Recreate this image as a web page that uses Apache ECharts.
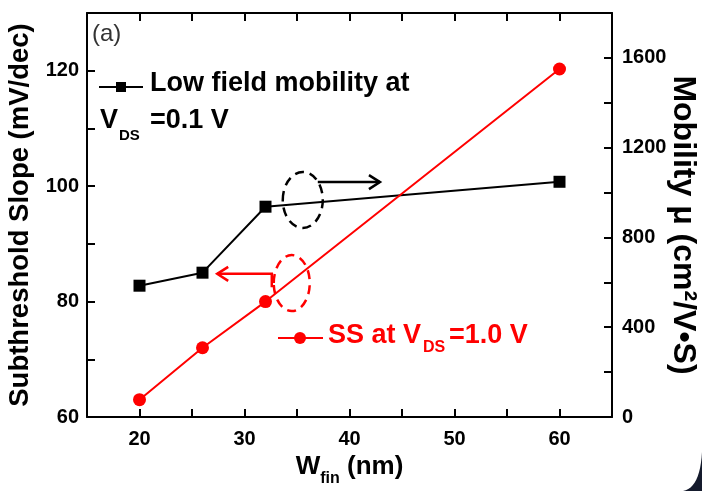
<!DOCTYPE html>
<html>
<head>
<meta charset="utf-8">
<script src="https://cdn.jsdelivr.net/npm/echarts@6/dist/echarts.min.js"></script>
<style>
  html, body { margin: 0; padding: 0; background: #ffffff; }
  #chart { width: 702px; height: 491px; }
</style>
</head>
<body>
<div id="chart"></div>
<script>
// Fin width (nm) and the two measured quantities
const finWidths = [20, 26, 32, 60];
const ssValues = [63, 72, 80, 120.3];          // subthreshold slope, mV/dec (left axis)
const mobilityValues = [585, 643, 937, 1048];  // low field mobility, cm^2/V·s (right axis)

// Labelled ticks
const xTickLabels = [20, 30, 40, 50, 60];
const ssTickLabels = [60, 80, 100, 120];
const mobilityTickLabels = [0, 400, 800, 1200, 1600];

const FONT = '"Liberation Sans", Arial, sans-serif';
const RED = '#ff0000';
const BLACK = '#000000';

const chart = echarts.init(document.getElementById('chart'), null, { renderer: 'canvas' });

function axisBase(color) {
  return {
    axisLine: { show: true, onZero: false, lineStyle: { color: color, width: 2 } },
    axisTick: { show: true, inside: true, length: 8, lineStyle: { color: color, width: 2 } },
    splitLine: { show: false },
    minorTick: { show: false }
  };
}

function tickLabel(list) {
  return function (v) { return list.indexOf(v) >= 0 ? String(v) : ''; };
}

const labelStyle = { color: BLACK, fontFamily: FONT, fontWeight: 'bold', fontSize: 20 };

const option = {
  animation: false,
  backgroundColor: '#ffffff',
  grid: { left: 87, right: 90, top: 13, bottom: 74, containLabel: false, outerBoundsMode: 'none' },
  xAxis: [
    Object.assign(axisBase(BLACK), {
      type: 'value', position: 'bottom', min: 15, max: 65, interval: 5,
      axisLabel: Object.assign({ formatter: tickLabel(xTickLabels), margin: 12 }, labelStyle),
      name: '{a|W}{s|fin}{a| (nm)}',
      nameLocation: 'middle', nameGap: 30,
      nameTextStyle: {
        rich: {
          a: { fontFamily: FONT, fontWeight: 'bold', fontSize: 26, color: BLACK, lineHeight: 40 },
          s: { fontFamily: FONT, fontWeight: 'bold', fontSize: 16, color: BLACK, lineHeight: 16, verticalAlign: 'bottom' }
        }
      }
    }),
    Object.assign(axisBase(BLACK), {
      type: 'value', position: 'top', min: 15, max: 65, interval: 5,
      axisLabel: { show: false }
    })
  ],
  yAxis: [
    Object.assign(axisBase(BLACK), {
      type: 'value', position: 'left', min: 60, max: 130, interval: 10,
      axisLabel: Object.assign({ formatter: tickLabel(ssTickLabels), margin: 8 }, labelStyle),
      name: 'Subthreshold Slope (mV/dec)',
      nameLocation: 'middle', nameRotate: 90, nameGap: 44,
      nameTextStyle: { fontFamily: FONT, fontWeight: 'bold', fontSize: 27.5, color: BLACK }
    }),
    Object.assign(axisBase(BLACK), {
      type: 'value', position: 'right', min: 0, max: 1800, interval: 200,
      axisLabel: Object.assign({ formatter: tickLabel(mobilityTickLabels), margin: 10 }, labelStyle)
    })
  ],
  series: [
    {
      name: 'Low field mobility', type: 'line', xAxisIndex: 0, yAxisIndex: 1,
      data: finWidths.map((w, i) => [w, mobilityValues[i]]),
      symbol: 'rect', symbolSize: 12,
      lineStyle: { color: BLACK, width: 2 },
      itemStyle: { color: BLACK },
      z: 3
    },
    {
      name: 'SS', type: 'line', xAxisIndex: 0, yAxisIndex: 0,
      data: finWidths.map((w, i) => [w, ssValues[i]]),
      symbol: 'circle', symbolSize: 13,
      lineStyle: { color: RED, width: 2 },
      itemStyle: { color: RED },
      z: 4
    }
  ]
};

chart.setOption(option);

// Text annotations, legends and the axis-pointing callouts
function px(x, y, yAxisIndex) {
  return chart.convertToPixel({ xAxisIndex: 0, yAxisIndex: yAxisIndex || 0 }, [x, y]);
}

function text(str, x, y, size, color, extra, weight) {
  return Object.assign({
    type: 'text', x: x, y: y, z: 20,
    style: { text: str, fill: color, font: (weight || 'bold') + ' ' + size + 'px ' + FONT, verticalAlign: 'middle', align: 'left' }
  }, extra || {});
}

function arrowHead(tip, dir, color) {
  // open chevron; dir = +1 points right, -1 points left
  const len = 11, half = 7;
  return {
    type: 'polyline', z: 15,
    shape: { points: [[tip[0] - dir * len, tip[1] - half], tip, [tip[0] - dir * len, tip[1] + half]] },
    style: { stroke: color, lineWidth: 2.5, fill: null }
  };
}

// quadratic curve sampled into polygon points (window corner)
function quadPoints(p0, c, p1, n) {
  const pts = [];
  for (let i = 0; i <= n; i++) {
    const t = i / n, u = 1 - t;
    pts.push([u * u * p0[0] + 2 * u * t * c[0] + t * t * p1[0], u * u * p0[1] + 2 * u * t * c[1] + t * t * p1[1]]);
  }
  return pts;
}

const blackEllipse = px(35.55, 97.6);
const blackArrowFrom = px(36.98, 100.7);
const blackArrowTo = px(42.9, 100.7);
const redEllipse = px(34.5, 83.2);
const redBend = px(32.6, 84.8);
const redStart = px(32.6, 82.5);
const redArrowTo = px(27.4, 84.8);

const cornerPts = quadPoints([702, 452], [700, 488], [683, 491], 12).concat([[702, 491]]);

const graphic = [
  // black callout: points to the right axis
  { type: 'ellipse', z: 15, shape: { cx: blackEllipse[0], cy: blackEllipse[1], rx: 20, ry: 28 },
    style: { stroke: BLACK, lineWidth: 2.5, fill: null, lineDash: [9, 6] } },
  { type: 'line', z: 15, shape: { x1: blackArrowFrom[0], y1: blackArrowFrom[1], x2: blackArrowTo[0], y2: blackArrowTo[1] },
    style: { stroke: BLACK, lineWidth: 2.5 } },
  arrowHead(blackArrowTo, 1, BLACK),
  // red callout: points to the left axis
  { type: 'ellipse', z: 15, shape: { cx: redEllipse[0], cy: redEllipse[1], rx: 18, ry: 28 },
    style: { stroke: RED, lineWidth: 2.5, fill: null, lineDash: [9, 6] } },
  { type: 'polyline', z: 15, shape: { points: [redStart, redBend, redArrowTo] },
    style: { stroke: RED, lineWidth: 2.5, fill: null } },
  arrowHead(redArrowTo, -1, RED),

  // right axis title
  {
    type: 'text', x: 683, y: 225, rotation: -Math.PI / 2, z: 20,
    style: {
      text: 'Mobility \u03bc (cm\u00b2/V\u2022S)', fill: BLACK,
      font: 'bold 32px ' + FONT, align: 'center', verticalAlign: 'middle'
    }
  },

  // legend: mobility
  { type: 'line', z: 20, shape: { x1: 99, y1: 87, x2: 143, y2: 87 }, style: { stroke: BLACK, lineWidth: 2 } },
  { type: 'rect', z: 21, shape: { x: 116, y: 82, width: 10, height: 10 }, style: { fill: BLACK } },
  text('Low field mobility at', 150, 84, 27, BLACK),
  text('V', 100, 121, 27, BLACK),
  text('DS', 119, 136, 15, BLACK),
  text('=0.1 V', 150, 121, 27, BLACK),

  // legend: SS
  { type: 'line', z: 20, shape: { x1: 278, y1: 338, x2: 323, y2: 338 }, style: { stroke: RED, lineWidth: 2 } },
  { type: 'circle', z: 21, shape: { cx: 300, cy: 338, r: 6 }, style: { fill: RED } },
  text('SS at V', 328, 336, 27, RED),
  text('DS', 423, 348, 16, RED),
  text('=1.0 V', 449, 336, 27, RED),

  // panel tag
  text('(a)', 92, 34, 24, '#333333', null, 'normal'),

  // dark rounded corner at the lower right edge
  { type: 'polygon', z: 30, shape: { points: cornerPts }, style: { fill: '#151b2d' } }
];

chart.setOption({ graphic: graphic });
</script>
</body>
</html>
